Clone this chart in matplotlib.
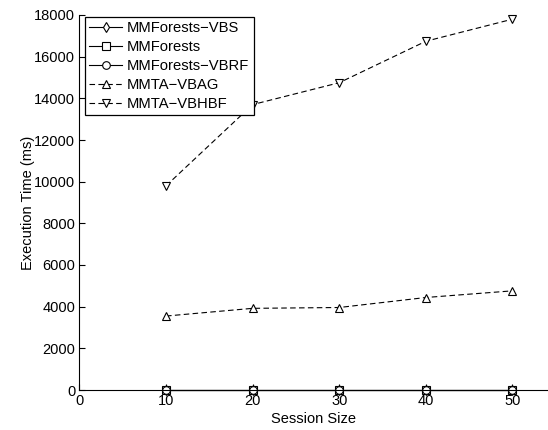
import matplotlib
matplotlib.use("Agg")
import matplotlib.pyplot as plt

plt.rcParams['font.family'] = ['Liberation Sans', 'DejaVu Sans']

# данные
session_size = [10, 20, 30, 40, 50]
vbs = [10, 10, 10, 10, 10]
mmforests = [10, 10, 10, 10, 10]
vbrf = [10, 10, 10, 10, 10]
vbag = [3550, 3920, 3960, 4440, 4760]
vbhbf = [9800, 13700, 14750, 16740, 17800]

labels = ["MMForests\u2212VBS", "MMForests", "MMForests\u2212VBRF",
          "MMTA\u2212VBAG", "MMTA\u2212VBHBF"]

fig = plt.figure(figsize=(5.48, 4.30), dpi=100)
ax = fig.add_axes([79.4 / 548, 40 / 430, (548 - 79.4) / 548, 375 / 430])

common = dict(color="black", linewidth=0.8, markersize=5.5,
              markerfacecolor="white", markeredgewidth=0.8, clip_on=False)

ax.plot(session_size, vbs, "-", marker="d", label=labels[0], **common)
ax.plot(session_size, mmforests, "-", marker="s", label=labels[1], **common)
ax.plot(session_size, vbrf, "-", marker="o", label=labels[2], **common)
ax.plot(session_size, vbag, "--", marker="^", dashes=(5, 3), label=labels[3], **common)
ax.plot(session_size, vbhbf, "--", marker="v", dashes=(5, 3), label=labels[4], **common)

ax.set_xlim(0, 54.1)
ax.set_ylim(0, 18000)
ax.set_xticks([0, 10, 20, 30, 40, 50])
ax.set_yticks(range(0, 18001, 2000))

ax.spines["top"].set_visible(False)
ax.spines["right"].set_visible(False)
ax.tick_params(direction="in", length=4, labelsize=10.5, pad=3)

ax.set_xlabel("Session Size", fontsize=10.5, labelpad=3)
ax.set_ylabel("Execution Time (ms)", fontsize=10.5, labelpad=-1)

leg = ax.legend(loc="upper left", bbox_to_anchor=(85 / 548, 1 - 17 / 430),
                bbox_transform=fig.transFigure, fontsize=10.6, fancybox=False,
                framealpha=1, edgecolor="black", handlelength=2.2,
                labelspacing=0.33, borderpad=0.3, handletextpad=0.35,
                borderaxespad=0)
leg.get_frame().set_linewidth(0.9)

fig.savefig("out.png", dpi=100)
